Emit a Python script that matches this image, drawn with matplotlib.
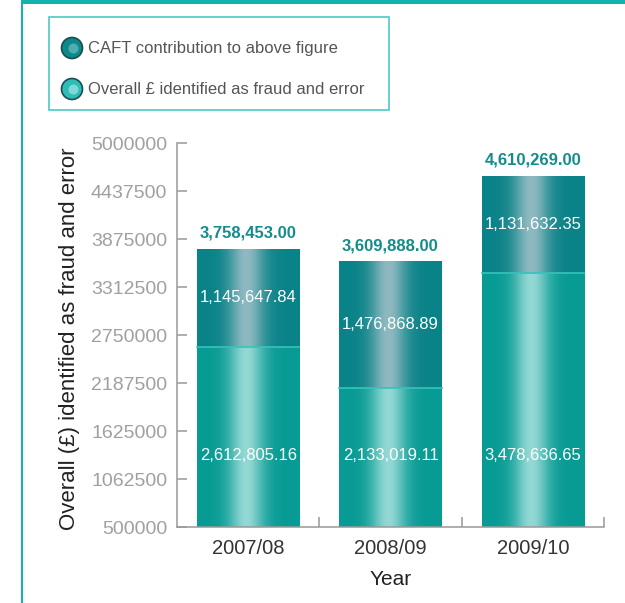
import numpy as np
import matplotlib
matplotlib.use("Agg")
import matplotlib.pyplot as plt
from matplotlib.patches import Rectangle, Ellipse

# data
years = ["2007/08", "2008/09", "2009/10"]
other = [2612805.16, 2133019.11, 3478636.65]   # part not from CAFT
caft = [1145647.84, 1476868.89, 1131632.35]     # CAFT contribution
totals = [3758453.00, 3609888.00, 4610269.00]
yticks = [500000, 1062500, 1625000, 2187500, 2750000, 3312500, 3875000, 4437500, 5000000]

plt.rcParams['font.family'] = ['Liberation Sans', 'DejaVu Sans']

teal_frame = '#12b3ad'
fig = plt.figure(figsize=(6.25, 6.03), dpi=100)
ax = fig.add_axes([177/625, 1-527/603, 427/625, 384/603])

ymin, ymax = 500000, 5000000
x = np.arange(len(years))
w = 0.72
b1 = ax.bar(x, other, width=w, color='#0aa099', zorder=2)
b2 = ax.bar(x, caft, width=w, bottom=other, color='#0a868a', zorder=2)

# cylinder style shading: dark at the sides, light in the middle
t = np.linspace(0, 1, 200)
prof = np.exp(-((t - 0.48) / 0.17) ** 2)

def shade(bars, edge, mid):
    e = np.array(matplotlib.colors.to_rgb(edge))
    m = np.array(matplotlib.colors.to_rgb(mid))
    img = e[None, :] + (m - e)[None, :] * prof[:, None]
    img = img[None, :, :]
    for p in bars:
        x0 = p.get_x()
        y0 = max(p.get_y(), ymin)
        y1 = p.get_y() + p.get_height()
        ax.imshow(img, extent=[x0, x0 + p.get_width(), y0, y1],
                  aspect='auto', zorder=3, interpolation='bilinear')

shade(b1, '#079b94', '#93d8d4')
shade(b2, '#0a8388', '#8fb9c1')

# thin light line on top of the lower segment
for p in b1:
    ax.plot([p.get_x(), p.get_x() + p.get_width()], [p.get_height()] * 2,
            color='#35c4bc', lw=1.2, zorder=4)

for i in range(len(years)):
    ax.annotate(f"{totals[i]:,.2f}", (x[i], totals[i]), xytext=(0, 6),
                textcoords='offset points', ha='center', va='bottom',
                fontsize=12, color='#138c8c', fontweight='bold', zorder=5)
    ax.text(x[i], other[i] + caft[i] / 2, f"{caft[i]:,.2f}", ha='center', va='center',
            fontsize=12, color='white', zorder=5)
    ax.text(x[i], 1340000, f"{other[i]:,.2f}", ha='center', va='center',
            fontsize=12, color='white', zorder=5)

ax.set_xlim(-0.5, 2.5)
ax.set_ylim(ymin, ymax)
ax.set_yticks(yticks)
ax.set_yticklabels([str(v) for v in yticks])
ax.set_xticks([0.5, 1.5, 2.5])
ax.set_xticklabels([])
ax.set_xticks(x, minor=True)
ax.set_xticklabels(years, minor=True)
ax.tick_params(axis='x', which='minor', length=0, pad=9, labelsize=14.5, labelcolor='#333333')
ax.tick_params(axis='x', which='major', direction='in', length=7, width=1.1, color='#999999')
ax.tick_params(axis='y', direction='in', length=7, width=1.1, color='#999999',
               pad=7, labelsize=14, labelcolor='#a0a0a0')
for s in ['top', 'right']:
    ax.spines[s].set_visible(False)
for s in ['left', 'bottom']:
    ax.spines[s].set_color('#999999')
    ax.spines[s].set_linewidth(1.1)
    ax.spines[s].set_zorder(6)

ax.set_xlabel("Year", fontsize=15, color='#222222', labelpad=8)
fig.text(70/625, 1-339/603, "Overall (£) identified as fraud and error", rotation=90,
         ha='center', va='center', fontsize=16, color='#222222')

# page frame lines
fig.add_artist(Rectangle((22/625, 1-3.5/603), 1, 3.5/603, transform=fig.transFigure,
                         color=teal_frame, lw=0))
fig.add_artist(Rectangle((21/625, 0), 1.6/625, 1, transform=fig.transFigure,
                         color=teal_frame, lw=0))

# legend box
fig.add_artist(Rectangle((49/625, 1-110/603), 340/625, 93/603, transform=fig.transFigure,
                         facecolor='white', edgecolor='#4ccac6', lw=1.2))
leg_items = [("CAFT contribution to above figure", '#0b8a8e', '#7fc4c8', 48),
             ("Overall £ identified as fraud and error", '#2ebcb7', '#b5ecea', 89)]
for label, c, hl, yc in leg_items:
    fig.add_artist(Ellipse((72/625, 1-yc/603), 21/625, 21/603, transform=fig.transFigure,
                           facecolor=c, edgecolor='#1d4d4e', lw=1.2))
    fig.add_artist(Ellipse((73.5/625, 1-(yc+0.5)/603), 10/625, 10/603, transform=fig.transFigure,
                           facecolor=hl, edgecolor='none', alpha=0.6))
    fig.text(88/625, 1-yc/603, label, ha='left', va='center', fontsize=12, color='#555555')

fig.savefig("out.png", dpi=100)
